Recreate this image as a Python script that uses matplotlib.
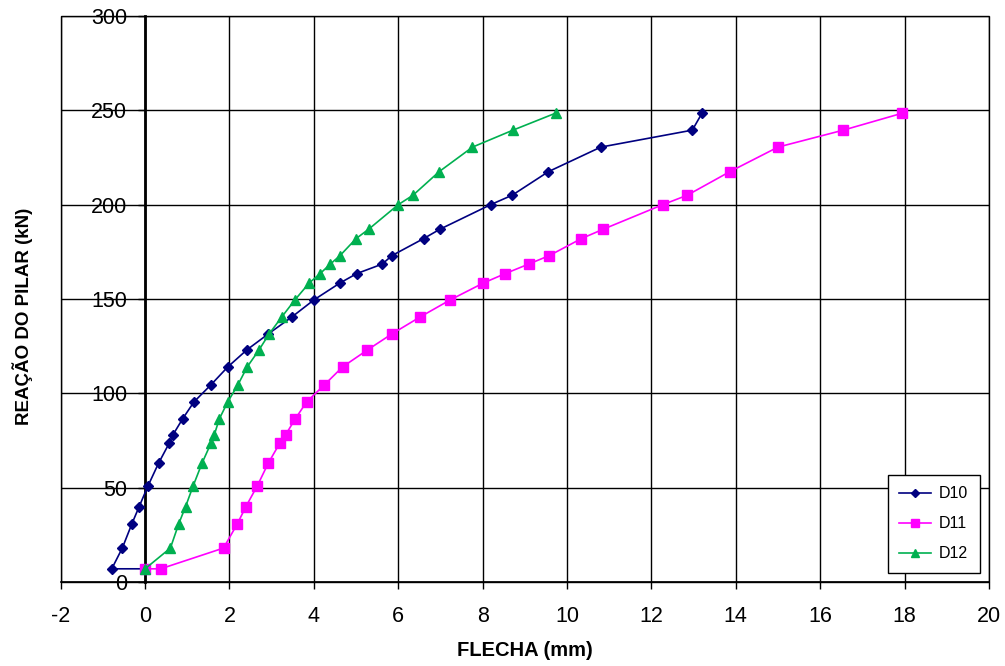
import matplotlib.pyplot as plt
import numpy as np
from matplotlib.patches import Rectangle

plt.rcParams['font.family'] = ['Liberation Sans', 'DejaVu Sans']
plt.rcParams['axes.unicode_minus'] = False

# load levels (kN)
load10 = [7, 7, 18, 31, 40, 51, 63, 73.5, 78, 86.5, 95.5, 104.5, 114, 123, 131.5, 140.5,
          149.5, 158.5, 163.5, 168.5, 173, 182, 187, 200, 205, 217.5, 230.5, 239.5, 248.5]
d10 = [0.0, -0.79, -0.54, -0.31, -0.14, 0.07, 0.32, 0.57, 0.66, 0.89, 1.16, 1.56, 1.96, 2.41,
       2.92, 3.48, 4.0, 4.62, 5.02, 5.62, 5.85, 6.6, 6.99, 8.19, 8.7, 9.56, 10.8, 12.97, 13.2]

load11 = [7, 7, 18, 31, 40, 51, 63, 73.5, 78, 86.5, 95.5, 104.5, 114, 123, 131.5, 140.5,
          149.5, 158.5, 163.5, 168.5, 173, 182, 187, 200, 205, 217.5, 230.5, 239.5, 248.5]
d11 = [0.0, 0.37, 1.86, 2.19, 2.39, 2.66, 2.92, 3.19, 3.33, 3.56, 3.83, 4.25, 4.68, 5.27,
       5.85, 6.52, 7.23, 8.02, 8.54, 9.09, 9.58, 10.34, 10.86, 12.27, 12.85, 13.86, 15.0, 16.55, 17.95]

load12 = [7, 18, 31, 40, 51, 63, 73.5, 78, 86.5, 95.5, 104.5, 114, 123, 131.5, 140.5,
          149.5, 158.5, 163.5, 168.5, 173, 182, 187, 200, 205, 217.5, 230.5, 239.5, 248.5]
d12 = [0.0, 0.6, 0.8, 0.96, 1.14, 1.35, 1.56, 1.64, 1.76, 1.96, 2.2, 2.42, 2.7, 2.94, 3.24,
       3.55, 3.89, 4.15, 4.39, 4.62, 5.0, 5.3, 6.0, 6.35, 6.97, 7.76, 8.72, 9.73]

fig = plt.figure(figsize=(10.05, 6.66), dpi=100)
ax = fig.add_axes([0.0604, 0.1261, 0.9236, 0.8499])

ax.plot(d10, load10, color='#000080', marker='D', markersize=5, linewidth=1.2, label='D10', zorder=3)
ax.plot(d11, load11, color='#FF00FF', marker='s', markersize=7, linewidth=1.2, label='D11', zorder=3)
ax.plot(d12, load12, color='#00B050', marker='^', markersize=7.5, linewidth=1.2, label='D12', zorder=4)

ax.set_xlim(-2, 20)
ax.set_ylim(0, 300)
ax.set_xticks(np.arange(-2, 21, 2))
ax.set_yticks(np.arange(0, 301, 50))
ax.grid(True, color='black', linewidth=1.0)
ax.set_axisbelow(True)

for s in ['top', 'right']:
    ax.spines[s].set_visible(False)
ax.spines['left'].set_position(('data', 0))
ax.spines['left'].set_linewidth(2)
ax.spines['bottom'].set_linewidth(1.2)
ax.add_patch(Rectangle((0, 0), 1, 1, transform=ax.transAxes, fill=False,
                       edgecolor='black', linewidth=1.0, clip_on=False, zorder=1))

ax.tick_params(axis='both', direction='out', length=5, width=1, labelsize=15.5, colors='black')
ax.tick_params(axis='x', pad=12)
ax.tick_params(axis='y', pad=8)

ax.set_xlabel('FLECHA (mm)', fontsize=14.5, fontweight='bold', labelpad=10)
fig.text(0.023, 0.525, 'REAÇÃO DO PILAR (kN)', rotation=90, fontsize=13.5, fontweight='bold',
         ha='center', va='center')

leg = ax.legend(loc='lower right', bbox_to_anchor=(0.990, 0.0165), borderaxespad=0,
                fontsize=11.5, frameon=True, fancybox=False, edgecolor='black', framealpha=1,
                borderpad=0.7, labelspacing=0.95, handlelength=2.0, handletextpad=0.5,
                markerscale=0.8)
leg.get_frame().set_linewidth(1.0)

plt.savefig('out.png', dpi=100)
